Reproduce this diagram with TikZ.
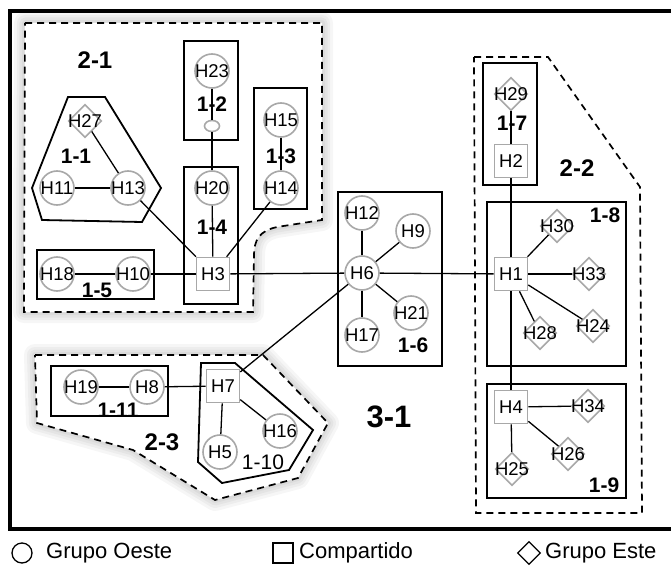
\documentclass[tikz,border=0pt]{standalone}
\usepackage{fontspec}
\setmainfont{Liberation Sans}
\usetikzlibrary{shapes.geometric}
\definecolor{ngray}{RGB}{168,168,168}
\newcommand\zoneApath{(25,23) -- (322,23) -- (322,220) -- (277,227)
  .. controls (259,231) and (254,240) .. (254,256) -- (253,312) -- (24,312) -- cycle}
\newcommand\zoneCpath{(35,355) -- (263,355) -- (328,423) -- (298,478) -- (215,500)
  -- (133,450) -- (37,423) -- cycle}
\begin{document}
\begin{tikzpicture}[x=1pt,y=-1pt,
  nfont/.style={font=\fontsize{18.5}{18.5}\selectfont},
  hc/.style={circle,draw=ngray,line width=1.6pt,minimum size=34pt,inner sep=0pt,
    label={[nfont,inner sep=0pt]center:#1}},
  hs/.style={rectangle,draw=ngray,line width=1.6pt,minimum size=33pt,inner sep=0pt,
    label={[nfont,inner sep=0pt]center:#1}},
  hd/.style={diamond,draw=ngray,line width=1.6pt,minimum size=33pt,inner sep=0pt,
    label={[nfont,inner sep=0pt]center:#1}},
  grp/.style={draw,line width=1.8pt},
  zone/.style={draw,line width=1.7pt,dash pattern=on 7pt off 5pt},
  glow/.style={draw=black,opacity=0.035,line join=round},
  lab/.style={font=\bfseries\fontsize{21}{21}\selectfont,inner sep=0pt},
  big/.style={font=\bfseries\fontsize{24}{24}\selectfont,inner sep=0pt},
  huge/.style={font=\bfseries\fontsize{31}{31}\selectfont,inner sep=0pt},
  leg/.style={font=\fontsize{22}{22}\selectfont,inner sep=0pt,anchor=west},
  edge/.style={line width=1.3pt}]
\useasboundingbox (0,0) rectangle (671,567);
\fill[white] (0,0) rectangle (671,567);

% outer frame (open on the right)
\draw[line width=3.8pt] (675,11) -- (10,11) -- (10,529) -- (675,529);

% soft glow around two zones
\foreach \w in {22,16,11,6} {
  \draw[glow,line width=\w pt] \zoneApath;
  \draw[glow,line width=\w pt] \zoneCpath;
}
\fill[white] \zoneApath;
\fill[white] \zoneCpath;

% zones
\draw[zone] \zoneApath;
\draw[zone] (474,57) -- (548,57) -- (640,187) -- (642,513) -- (476,513) -- cycle;
\draw[zone] \zoneCpath;

% groups
\draw[grp] (184,41) rectangle (238,140);
\draw[grp] (254,88) rectangle (307,209);
\draw[grp] (184,167) rectangle (238,304);
\draw[grp] (37,250) rectangle (154,299);
\draw[grp] (338,192) rectangle (442,366);
\draw[grp] (483,63) rectangle (537,185);
\draw[grp] (487,202) rectangle (626,366);
\draw[grp] (487,384) rectangle (626,498);
\draw[grp] (51,366) rectangle (168,416);
\draw[grp] (68,97) -- (105,97) -- (161,188) -- (142,222) -- (42,220) -- (32,188) -- cycle;
\draw[grp] (201,363) -- (235,363) -- (313,430) -- (289,470) -- (222,483) -- (198,462) -- cycle;

% hosts
\node[hd=H27] (h27) at (85,121) {};
\node[hc=H11] (h11) at (57,188) {};
\node[hc=H13] (h13) at (128,188) {};
\node[hc=H23] (h23) at (212,71) {};
\node[ellipse,draw=ngray,line width=1.6pt,minimum width=15pt,minimum height=11pt,inner sep=0pt] (e12) at (212,126) {};
\node[hc=H15] (h15) at (281,120) {};
\node[hc=H14] (h14) at (281,188) {};
\node[hc=H20] (h20) at (212,188) {};
\node[hs=H3] (h3) at (213,274) {};
\node[hc=H18] (h18) at (57,274) {};
\node[hc=H10] (h10) at (133,274) {};
\node[hc=H6] (h6) at (362,273) {};
\node[hc=H12] (h12) at (362,213) {};
\node[hc=H9] (h9) at (413,231) {};
\node[hc=H21] (h21) at (411,313) {};
\node[hc=H17] (h17) at (362,335) {};
\node[hd=H29] (h29) at (511,94) {};
\node[hs=H2] (h2) at (511,161) {};
\node[hs=H1] (h1) at (511,274) {};
\node[hd=H30] (h30) at (557,226) {};
\node[hd=H33] (h33) at (589,274) {};
\node[hd=H28] (h28) at (540,333) {};
\node[hd=H24] (h24) at (593,326) {};
\node[hs=H4] (h4) at (511,407) {};
\node[hd=H34] (h34) at (588,406) {};
\node[hd=H26] (h26) at (568,454) {};
\node[hd=H25] (h25) at (512,469) {};
\node[hs=H7] (h7) at (223,386) {};
\node[hc=H8] (h8) at (147,387) {};
\node[hc=H19] (h19) at (81,387) {};
\node[hc=H16] (h16) at (280,431) {};
\node[hc=H5] (h5) at (220,452) {};

% links
\draw[edge] (h11) -- (h13);
\draw[edge] (h27) -- (h13);
\draw[edge] (h23) -- (e12);
\draw[edge] (e12) -- (h20);
\draw[edge] (h15) -- (h14);
\draw[edge] (h13) -- (h3);
\draw[edge] (h20) -- (h3);
\draw[edge] (h14) -- (h3);
\draw[edge] (h18) -- (h10);
\draw[edge] (h10) -- (h3);
\draw[edge] (h3) -- (h6);
\draw[edge] (h6) -- (h12);
\draw[edge] (h6) -- (h9);
\draw[edge] (h6) -- (h21);
\draw[edge] (h6) -- (h17);
\draw[edge] (h6) -- (h1);
\draw[edge] (h6) -- (h7);
\draw[edge] (h29) -- (h2);
\draw[edge] (h2) -- (h1);
\draw[edge] (h1) -- (h30);
\draw[edge] (h1) -- (h33);
\draw[edge] (h1) -- (h28);
\draw[edge] (h1) -- (h24);
\draw[edge] (h1) -- (h4);
\draw[edge] (h4) -- (h34);
\draw[edge] (h4) -- (h26);
\draw[edge] (h4) -- (h25);
\draw[edge] (h19) -- (h8);
\draw[edge] (h8) -- (h7);
\draw[edge] (h7) -- (h5);
\draw[edge] (h7) -- (h16);

% labels
\node[big] (l21) at (95,60) {2-1};
\node[lab] (l11) at (76,156) {1-1};
\node[lab] (l12) at (212,104) {1-2};
\node[lab] (l13) at (281,156) {1-3};
\node[lab] (l14) at (212,227) {1-4};
\node[lab] (l15) at (97,290) {1-5};
\node[lab] (l16) at (413,345) {1-6};
\node[lab] (l17) at (512,123) {1-7};
\node[big] (l22) at (577,168) {2-2};
\node[lab] (l18) at (605,215) {1-8};
\node[lab] (l19) at (604,485) {1-9};
\node[huge] (l31) at (389,417) {3-1};
\node[big] (l23) at (162,442) {2-3};
\node[font=\fontsize{21}{21}\selectfont,inner sep=0pt] (l110) at (263,462) {1-10};
\node[lab] (l111) at (118,410) {1-11};

% legend
\node[circle,draw,line width=1.3pt,minimum size=20pt,inner sep=0pt] (lgc) at (22,553) {};
\node[leg] (lgct) at (46,553) {Grupo Oeste};
\node[rectangle,draw,line width=1.3pt,minimum size=20pt,inner sep=0pt] (lgs) at (283,553) {};
\node[leg] (lgst) at (299,553) {Compartido};
\node[diamond,draw,line width=1.3pt,minimum size=23pt,inner sep=0pt] (lgd) at (529,553) {};
\node[leg] (lgdt) at (545,553) {Grupo Este};
\end{tikzpicture}
\end{document}
